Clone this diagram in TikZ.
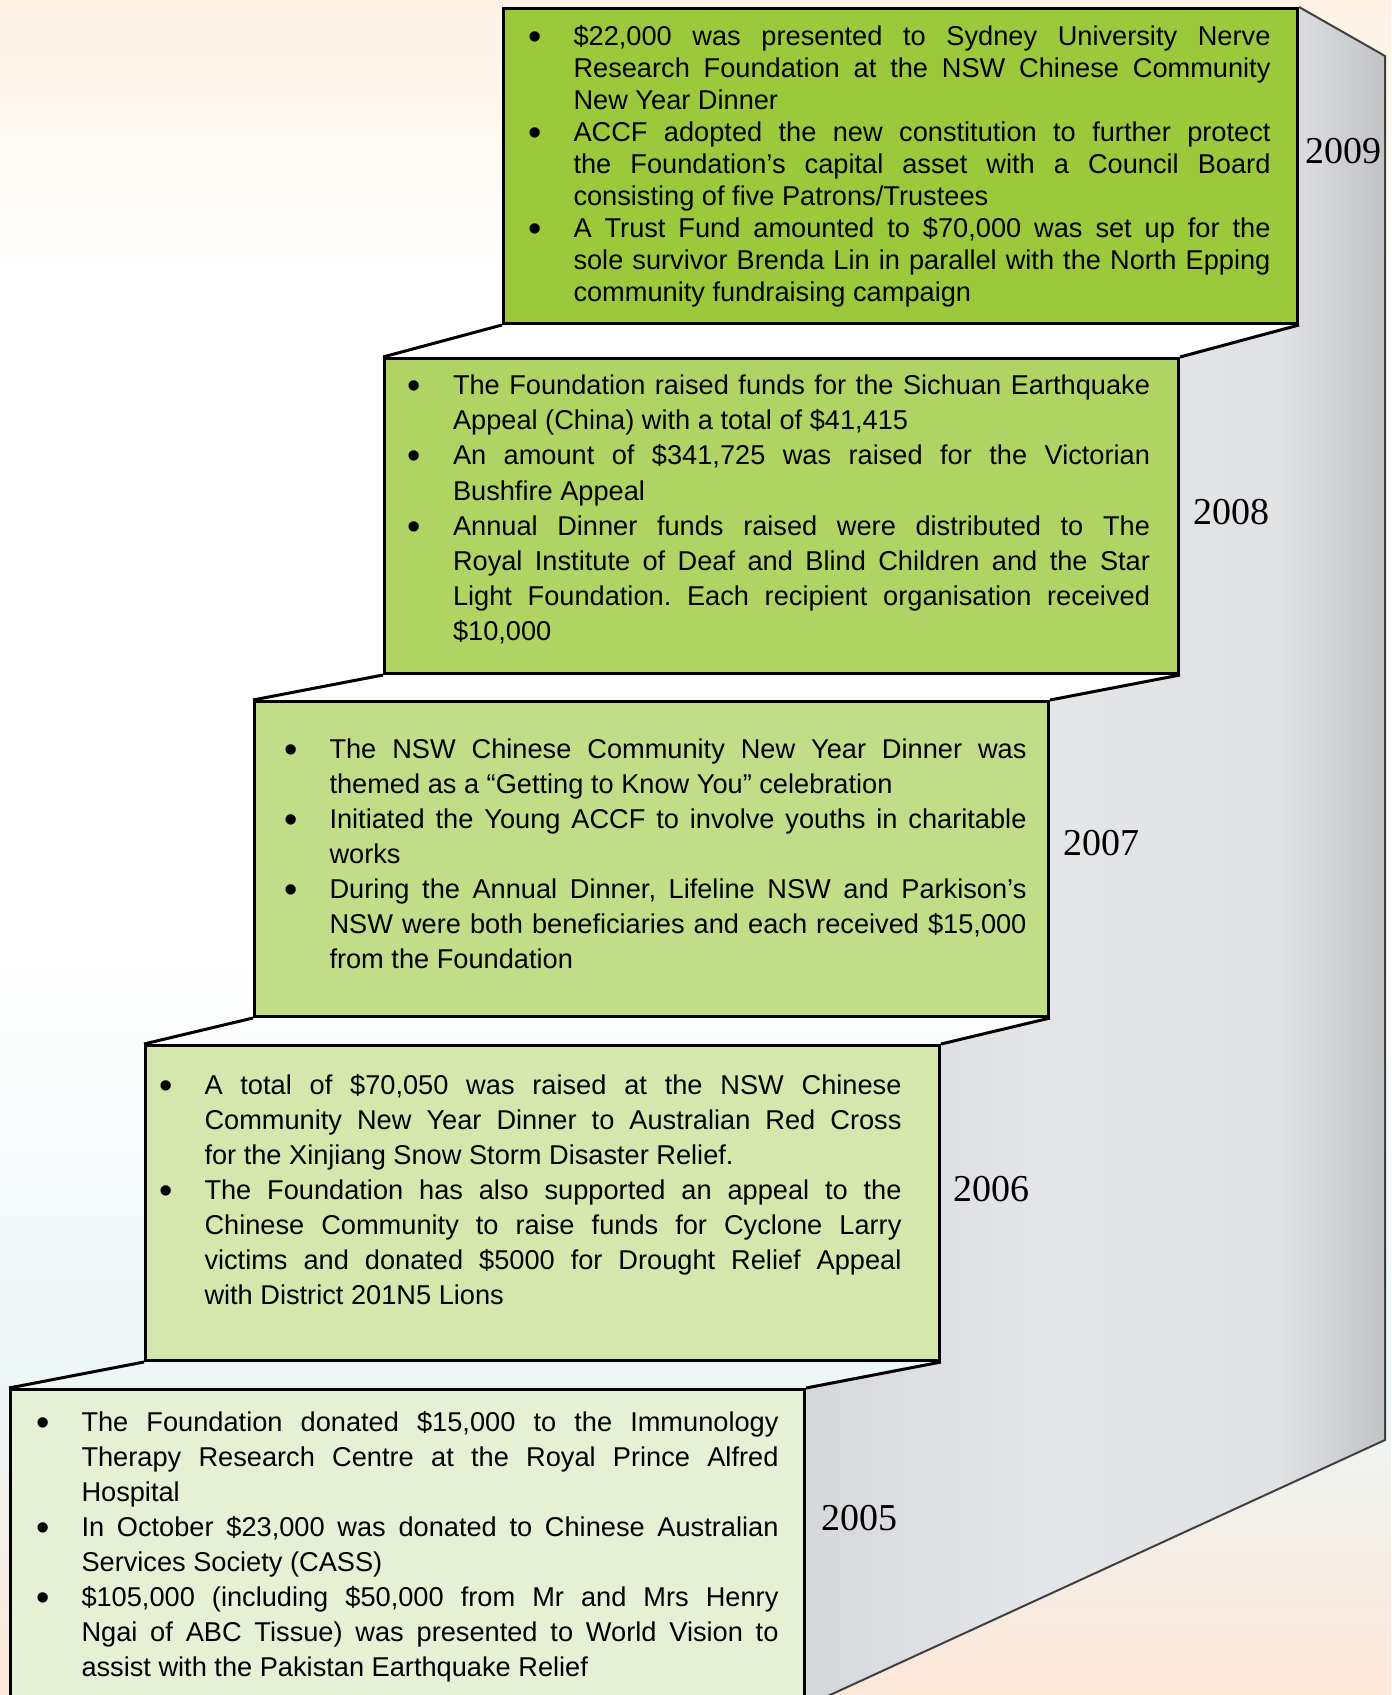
\documentclass[tikz,border=0pt]{standalone}
\usepackage{fontspec}
\setmainfont{Liberation Sans}
\newfontfamily\yearfont{Liberation Serif}
\usepackage{enumitem}
\usetikzlibrary{positioning, backgrounds}
\frenchspacing
\setlist[itemize]{label={\fontsize{19}{19}\selectfont\raisebox{-1.9pt}{\textbullet}}, leftmargin=21.5pt, labelsep=16pt, labelwidth=5.5pt, itemindent=0pt, topsep=0pt, itemsep=0pt, parsep=0pt, partopsep=0pt}
\definecolor{step09}{RGB}{155,201,59}
\definecolor{step08}{RGB}{176,212,100}
\definecolor{step07}{RGB}{193,221,136}
\definecolor{step06}{RGB}{213,231,172}
\definecolor{step05}{RGB}{230,240,212}
\definecolor{bgtop}{RGB}{253,242,228}
\definecolor{bgblue}{RGB}{236,245,245}
\definecolor{bgbottom}{RGB}{252,231,216}
\pgfdeclarehorizontalshading{sidegray}{100bp}{rgb(0bp)=(.84,.845,.855); rgb(25bp)=(.84,.845,.855); rgb(45bp)=(.895,.9,.91); rgb(66bp)=(.88,.885,.895); rgb(75bp)=(.76,.765,.775); rgb(100bp)=(.76,.765,.775)}
\tikzstyle{stepbox}=[draw,line width=1.5pt,rectangle,minimum width=397pt,minimum height=157.5pt,inner sep=0pt,anchor=north west]
\tikzstyle{tread}=[line width=1.5pt]
\tikzstyle{sideline}=[line width=1pt,black!75]
\tikzstyle{year}=[font=\yearfont\fontsize{19}{19}\selectfont,inner sep=0pt]
\newcommand{\steplist}[4]{\hspace*{#2}\begin{minipage}{370pt}\fontsize{13.6}{#1}\selectfont\begin{itemize}#4\end{itemize}\par\vspace*{#3}\end{minipage}}

\begin{document}
\begin{tikzpicture}[x=0.5pt,y=-0.5pt]
    \useasboundingbox (0,0) rectangle (1391,1695);
    \node[stepbox, fill=step09] (b2009) at (502,7) {\steplist{16pt}{0pt}{0pt}{
        \item \$22,000 was presented to Sydney University Nerve\linebreak Research Foundation at the NSW Chinese Community\linebreak New Year Dinner
        \item ACCF adopted the new constitution to further protect\linebreak the Foundation’s capital asset with a Council Board\linebreak consisting of five Patrons/Trustees
        \item A Trust Fund amounted to \$70,000 was set up for the\linebreak sole survivor Brenda Lin in parallel with the North Epping\linebreak community fundraising campaign}};
    \node[stepbox, fill=step08] (b2008) at (383,357) {\steplist{17.6pt}{-1.5pt}{6.4pt}{
        \item The Foundation raised funds for the Sichuan Earthquake\linebreak Appeal (China) with a total of \$41,415
        \item An amount of \$341,725 was raised for the Victorian\linebreak Bushfire Appeal
        \item Annual Dinner funds raised were distributed to The\linebreak Royal Institute of Deaf and Blind Children and the Star\linebreak Light Foundation. Each recipient organisation received\linebreak \$10,000}};
    \node[stepbox, fill=step07] (b2007) at (253,700) {\steplist{17.5pt}{5pt}{5.4pt}{
        \item The NSW Chinese Community New Year Dinner was\linebreak themed as a “Getting to Know You” celebration
        \item Initiated the Young ACCF to involve youths in charitable\linebreak works
        \item During the Annual Dinner, Lifeline NSW and Parkison’s\linebreak NSW were both beneficiaries and each received \$15,000\linebreak from the Foundation}};
    \node[stepbox, fill=step06] (b2006) at (144,1044) {\steplist{17.5pt}{-11pt}{13pt}{
        \item A total of \$70,050 was raised at the NSW Chinese\linebreak Community New Year Dinner to Australian Red Cross\linebreak for the Xinjiang Snow Storm Disaster Relief.
        \item The Foundation has also supported an appeal to the\linebreak Chinese Community to raise funds for Cyclone Larry\linebreak victims and donated \$5000 for Drought Relief Appeal\linebreak with District 201N5 Lions}};
    \node[stepbox, fill=step05] (b2005) at (9,1388) {\steplist{17.5pt}{1pt}{0pt}{
        \item The Foundation donated \$15,000 to the Immunology\linebreak Therapy Research Centre at the Royal Prince Alfred\linebreak Hospital
        \item In October \$23,000 was donated to Chinese Australian\linebreak Services Society (CASS)
        \item \$105,000 (including \$50,000 from Mr and Mrs Henry\linebreak Ngai of ABC Tissue) was presented to World Vision to\linebreak assist with the Pakistan Earthquake Relief}};
    \coordinate (sidetop) at (1385,56);
    \coordinate (sidebot) at (1385,1440);
    \begin{pgfonlayer}{background}
        \fill[white] (0,0) rectangle (1391,1695);
        \fill[top color=bgtop, bottom color=white] (0,0) rectangle (1391,270);
        \fill[top color=white, bottom color=bgblue] (0,950) rectangle (1391,1396);
        \fill[top color=bgblue, bottom color=bgbottom] (0,1395) rectangle (1391,1695);
        \shade[shading=sidegray] (b2009.north east) -- (sidetop) -- (sidebot) -- (b2005.south east) -- (b2005.north east) -- (b2006.south east) -- (b2006.north east) -- (b2007.south east) -- (b2007.north east) -- (b2008.south east) -- (b2008.north east) -- (b2009.south east) -- cycle;
    \end{pgfonlayer}
    \draw[sideline] (b2009.north east) -- (sidetop) -- (sidebot) -- (b2005.south east);
    \draw[tread] (b2008.north west) -- (b2009.south west);
    \draw[tread] (b2008.north east) -- (b2009.south east);
    \draw[tread] (b2007.north west) -- (b2008.south west);
    \draw[tread] (b2007.north east) -- (b2008.south east);
    \draw[tread] (b2006.north west) -- (b2007.south west);
    \draw[tread] (b2006.north east) -- (b2007.south east);
    \draw[tread] (b2005.north west) -- (b2006.south west);
    \draw[tread] (b2005.north east) -- (b2006.south east);
    \node[year, right=3pt of b2009.east, yshift=7.5pt] (y2009) {2009};
    \node[year, right=6.5pt of b2008.east, yshift=2pt] (y2008) {2008};
    \node[year, right=6.5pt of b2007.east, yshift=8pt] (y2007) {2007};
    \node[year, right=6pt of b2006.east, yshift=7pt] (y2006) {2006};
    \node[year, right=7.5pt of b2005.east, yshift=14.5pt] (y2005) {2005};
\end{tikzpicture}
\end{document}
